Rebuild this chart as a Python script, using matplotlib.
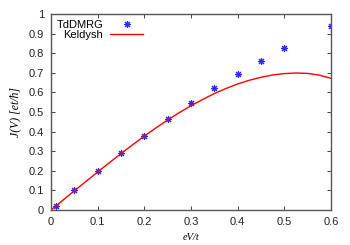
import matplotlib
matplotlib.use("Agg")
import matplotlib.pyplot as plt

# TdDMRG data points
dmrg_v = [0.01, 0.05, 0.10, 0.15, 0.20, 0.25, 0.30, 0.35, 0.40, 0.45, 0.50, 0.60]
dmrg_j = [0.02, 0.10, 0.197, 0.292, 0.378, 0.463, 0.548, 0.624, 0.696, 0.762, 0.825, 0.940]

# Keldysh curve
keldysh_v = [0.0, 0.025, 0.05, 0.075, 0.1, 0.125, 0.15, 0.175, 0.2, 0.225, 0.25,
             0.275, 0.3, 0.325, 0.35, 0.375, 0.4, 0.425, 0.45, 0.475, 0.5,
             0.525, 0.55, 0.575, 0.6]
keldysh_j = [0.0, 0.049, 0.098, 0.146, 0.194, 0.241, 0.288, 0.333, 0.377, 0.419, 0.459,
             0.497, 0.532, 0.564, 0.594, 0.620, 0.643, 0.662, 0.677, 0.689, 0.696,
             0.699, 0.697, 0.688, 0.672]

x_ticks = [0, 0.1, 0.2, 0.3, 0.4, 0.5, 0.6]
x_labels = ["0", "0.1", "0.2", "0.3", "0.4", "0.5", "0.6"]
y_ticks = [0, 0.1, 0.2, 0.3, 0.4, 0.5, 0.6, 0.7, 0.8, 0.9, 1.0]
y_labels = ["0", "0.1", "0.2", "0.3", "0.4", "0.5", "0.6", "0.7", "0.8", "0.9", "1"]

plt.rcParams["font.family"] = ["Liberation Sans", "DejaVu Sans"]
plt.rcParams["font.size"] = 8

fig = plt.figure(figsize=(3.5, 2.45), dpi=100)
ax = fig.add_axes([51 / 350, 35 / 245, 280 / 350, 196 / 245])

# gnuplot-style asterisk: eight arms
ax.plot(dmrg_v, dmrg_j, linestyle="none", marker=(8, 2, 0), markersize=5,
        markeredgewidth=0.8, color="#2a2aff", label="TdDMRG")
ax.plot(keldysh_v, keldysh_j, color="#ff0000", linewidth=1.0, label="Keldysh")

ax.set_xlim(0, 0.6)
ax.set_ylim(0, 1)
ax.set_xticks(x_ticks)
ax.set_xticklabels(x_labels)
ax.set_yticks(y_ticks)
ax.set_yticklabels(y_labels)
ax.tick_params(direction="in", top=True, right=True, length=3, width=0.7,
               color="#444444", labelcolor="#222222", pad=5)

for spine in ax.spines.values():
    spine.set_color("#555555")
    spine.set_linewidth(1.0)

ax.set_xlabel("eV/t", family="Liberation Serif", style="italic", fontsize=7.5,
              labelpad=4)
ax.set_ylabel("J(V) [et/ħ]", family="Liberation Serif", style="italic",
              fontsize=8.5, labelpad=5)

ax.legend(loc="upper left", bbox_to_anchor=(0.0, 1.0),
          frameon=False, markerfirst=False, handlelength=3.0,
          handletextpad=0.6, labelspacing=0.05, borderaxespad=0.2,
          borderpad=0.3, fontsize=8)

fig.savefig("out.png", dpi=100)
